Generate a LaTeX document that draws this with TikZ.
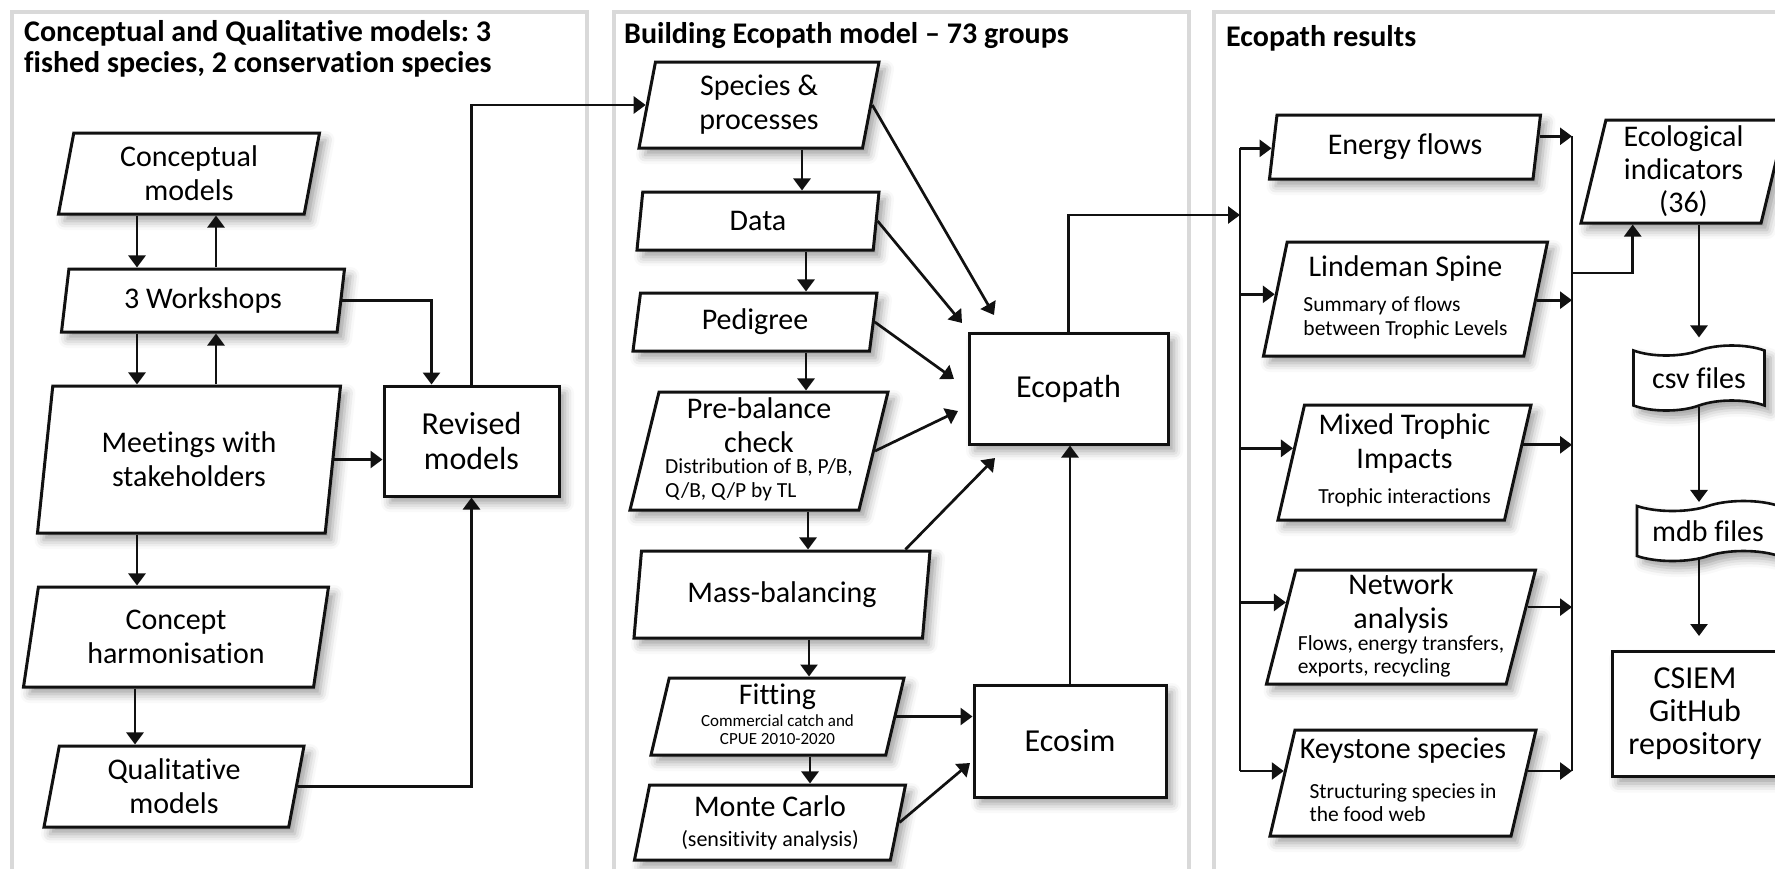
\documentclass[tikz,border=0pt]{standalone}
\usepackage{fontspec}
\setmainfont{Carlito}[Ligatures=CommonOff]
\frenchspacing
\usetikzlibrary{arrows.meta,positioning,calc,shapes.geometric,shapes.symbols,shadows.blur}
\definecolor{ink}{HTML}{111111}
\definecolor{panelgray}{HTML}{D9D9D9}

% small explanatory lines set under a box title
\newcommand{\subnote}[1]{{\fontsize{21.5}{23.5}\selectfont\begin{tabular}[t]{@{}l@{}}#1\end{tabular}}}
\newcommand{\tinynote}[1]{{\fontsize{17}{18}\selectfont\begin{tabular}[t]{@{}c@{}}#1\end{tabular}}}

\begin{document}
\begin{tikzpicture}[
  x=1pt, y=-1pt,
  font=\fontsize{30}{34}\selectfont,
  softshadow/.style={blur shadow={shadow xshift=6pt, shadow yshift=-7pt,
    shadow blur radius=9pt, shadow opacity=38}},
  para/.style={trapezium, trapezium left angle=75, trapezium right angle=105,
    trapezium stretches body, draw=ink, fill=white, line width=3pt,
    inner sep=1pt, align=center, softshadow},
  outcome/.style={rectangle, draw=ink, fill=white, line width=3pt,
    align=center, font=\fontsize{32}{35}\selectfont, softshadow},
  store/.style={tape, tape bend top=in and out, tape bend bottom=in and out,
    tape bend height=10pt, draw=ink, fill=white, line width=2.6pt, softshadow},
  flow/.style={-{Triangle[length=12pt,width=17pt]}, line width=2.7pt, draw=ink},
  bus/.style={line width=2.7pt, draw=ink},
  panel/.style={draw=panelgray, line width=4pt},
  heading/.style={anchor=west, align=left, inner sep=0pt,
    font=\bfseries\fontsize{30}{31}\selectfont}
]
  \useasboundingbox (0,0) rectangle (1775,868);

  % the three panels, open at the bottom
  \draw[panel] (11.5,880) |- (587,12) -- (587,880);
  \draw[panel] (613.5,880) |- (1189,12) -- (1189,880);
  \draw[panel] (1213.5,880) |- (1790,12);
  \node[heading] (title1) at (24,49) {Conceptual and Qualitative models: 3\\fished species, 2 conservation species};
  \node[heading] (title2) at (624,35.5) {Building Ecopath model – 73 groups};
  \node[heading] (title3) at (1226,38.5) {Ecopath results};

  % left panel
  \node[para, minimum width=261pt, minimum height=81pt] (concept) at (189,173.5) {Conceptual\\models};
  \node[para, minimum width=283pt, minimum height=63pt] (workshops) at (203,300.5) {3 Workshops};
  \node[para, minimum width=303pt, minimum height=147pt] (meetings) at (189,459.5) {Meetings with\\stakeholders};
  \node[para, minimum width=305pt, minimum height=100pt] (harmon) at (176,637) {Concept\\harmonisation};
  \node[para, minimum width=260pt, minimum height=81pt] (qualit) at (174,786.5) {Qualitative\\models};
  \node[outcome, minimum width=175pt, minimum height=110pt] (revised) at (471.5,441) {Revised\\models};

  \draw[flow] (concept.south -| 137,0) -- (workshops.north -| 137,0);
  \draw[flow] (workshops.north -| 216,0) -- (concept.south -| 216,0);
  \draw[flow] (workshops.south -| 137,0) -- (meetings.north -| 137,0);
  \draw[flow] (meetings.north -| 216,0) -- (workshops.south -| 216,0);
  \draw[flow] (meetings.south -| 137,0) -- (harmon.north -| 137,0);
  \draw[flow] (harmon.south -| 135,0) -- (qualit.north -| 135,0);
  \draw[flow] (workshops.east) -| ([xshift=-40pt]revised.north);
  \draw[flow] (meetings.east) -- (meetings.east -| revised.west);
  \draw[flow] (qualit.east) -| (revised.south);

  % middle panel
  \node[para, minimum width=240pt, minimum height=86pt] (species) at (759,105) {Species \&\\processes};
  \node[para, minimum width=242pt, minimum height=58pt] (data) at (758,221) {Data};
  \node[para, minimum width=244pt, minimum height=58pt] (pedigree) at (755,322) {Pedigree};
  \node[para, minimum width=258pt, minimum height=118pt] (prebal) at (759,451)
    {Pre-balance\\check\\[-13pt]\subnote{Distribution of B, P/B,\\Q/B, Q/P by TL}};
  \node[para, minimum width=296pt, minimum height=87pt] (massbal) at (782,594.5) {Mass-balancing};
  \node[para, minimum width=253pt, minimum height=77pt] (fitting) at (777.5,716.5)
    {Fitting\\[-12pt]\tinynote{Commercial catch and\\CPUE 2010-2020}};
  \node[para, minimum width=271pt, minimum height=75pt] (montecarlo) at (770,822.5)
    {Monte Carlo\\[-4pt]{\fontsize{22}{24}\selectfont(sensitivity analysis)}};
  \node[outcome, minimum width=199pt, minimum height=111pt] (ecopath) at (1068.5,388.5) {Ecopath};
  \node[outcome, minimum width=192pt, minimum height=112pt] (ecosim) at (1070,741) {Ecosim};

  \draw[flow] (revised.north) |- (species.west);
  \draw[flow] (species.south -| 802,0) -- (data.north -| 802,0);
  \draw[flow] (data.south -| 806,0) -- (pedigree.north -| 806,0);
  \draw[flow] (pedigree.south -| 806,0) -- (prebal.north -| 806,0);
  \draw[flow] (prebal.south -| 808,0) -- (massbal.north -| 808,0);
  \draw[flow] (massbal.south -| 809,0) -- (fitting.north -| 809,0);
  \draw[flow] (fitting.south -| 810,0) -- (montecarlo.north -| 810,0);

  % inputs that stop short of Ecopath / Ecosim
  \coordinate (epSpecies) at (994,315);
  \coordinate (epData) at (962,323);
  \coordinate (epPedigree) at (954,379);
  \coordinate (epPrebal) at (958,411);
  \coordinate (epMass) at (995,458);
  \coordinate (esMonte) at (970,763);
  \draw[flow] (species.east) -- (epSpecies);
  \draw[flow] (data.east) -- (epData);
  \draw[flow] (pedigree.east) -- (epPedigree);
  \draw[flow] (prebal.east) -- (epPrebal);
  \draw[flow] ($(massbal.top left corner)!0.91!(massbal.top right corner)$) -- (epMass);
  \draw[flow] (fitting.east) -- (fitting.east -| ecosim.west);
  \draw[flow] (montecarlo.east) -- (esMonte);
  \draw[flow] (ecosim.north) -- (ecosim.north |- ecopath.south);

  % right panel
  \node[para, minimum width=271pt, minimum height=64pt] (energy) at (1405,147) {Energy flows};
  \node[para, minimum width=284pt, minimum height=114pt] (lindeman) at (1405.5,299)
    {Lindeman Spine\\[1pt]\subnote{Summary of flows\\between Trophic Levels}};
  \node[para, minimum width=253pt, minimum height=115pt] (mixed) at (1404.5,462.5)
    {Mixed Trophic\\Impacts\\[1pt]\subnote{Trophic interactions}};
  \node[para, minimum width=269pt, minimum height=114pt] (network) at (1401,627)
    {Network\\analysis\\[-12pt]\subnote{Flows, energy transfers,\\exports, recycling}};
  \node[para, minimum width=266pt, minimum height=106pt] (keystone) at (1403,783)
    {Keystone species\\[6pt]\subnote{Structuring species in\\the food web}};
  \node[para, minimum width=205pt, minimum height=103pt, font=\fontsize{30}{33}\selectfont]
    (indicators) at (1683.5,171.5) {Ecological\\indicators\\(36)};
  \node[store, minimum width=131pt, minimum height=65pt] (csv) at (1699,378) {csv files};
  \node[store, minimum width=142pt, minimum height=60pt] (mdb) at (1708,531) {mdb files};
  \node[outcome, minimum width=166pt, minimum height=125pt, font=\fontsize{32}{33}\selectfont]
    (csiem) at (1695,714) {CSIEM\\GitHub\\repository};

  % fan-out bus on the left, collecting bus on the right
  \coordinate (hub) at (1240,215);
  \coordinate (junction) at (1572,273);
  \draw[flow] (ecopath.north) |- (hub);

  \coordinate (energyIn) at ($(energy.top left corner)!0.52!(energy.bottom left corner)$);
  \coordinate (lindemanIn) at ($(lindeman.top left corner)!0.46!(lindeman.bottom left corner)$);
  \coordinate (mixedIn) at ($(mixed.top left corner)!0.38!(mixed.bottom left corner)$);
  \coordinate (networkIn) at ($(network.top left corner)!0.29!(network.bottom left corner)$);
  \coordinate (keystoneIn) at ($(keystone.top left corner)!0.39!(keystone.bottom left corner)$);
  \draw[bus] (energyIn -| hub) -- (keystoneIn -| hub);
  \draw[flow] (energyIn -| hub) -- (energyIn);
  \draw[flow] (lindemanIn -| hub) -- (lindemanIn);
  \draw[flow] (mixedIn -| hub) -- (mixedIn);
  \draw[flow] (networkIn -| hub) -- (networkIn);
  \draw[flow] (keystoneIn -| hub) -- (keystoneIn);

  \coordinate (energyOut) at ($(energy.top right corner)!0.34!(energy.bottom right corner)$);
  \coordinate (lindemanOut) at ($(lindeman.top right corner)!0.51!(lindeman.bottom right corner)$);
  \coordinate (mixedOut) at ($(mixed.top right corner)!0.35!(mixed.bottom right corner)$);
  \coordinate (networkOut) at ($(network.top right corner)!0.33!(network.bottom right corner)$);
  \coordinate (keystoneOut) at ($(keystone.top right corner)!0.39!(keystone.bottom right corner)$);
  \draw[bus] (energyOut -| junction) -- (keystoneOut -| junction);
  \draw[flow] (energyOut) -- (energyOut -| junction);
  \draw[flow] (lindemanOut) -- (lindemanOut -| junction);
  \draw[flow] (mixedOut) -- (mixedOut -| junction);
  \draw[flow] (networkOut) -- (networkOut -| junction);
  \draw[flow] (keystoneOut) -- (keystoneOut -| junction);

  \draw[flow] (junction) -| ([xshift=-38pt]indicators.bottom side);
  \draw[flow, shorten >=12pt] (indicators.bottom side -| csv.north) -- (csv.north);
  \draw[flow, shorten >=3pt] (csv.south) -- (csv.south |- mdb.north);
  \draw[flow, shorten >=14pt] (mdb.south -| csv.south) -- (csiem.north -| csv.south);
\end{tikzpicture}
\end{document}
